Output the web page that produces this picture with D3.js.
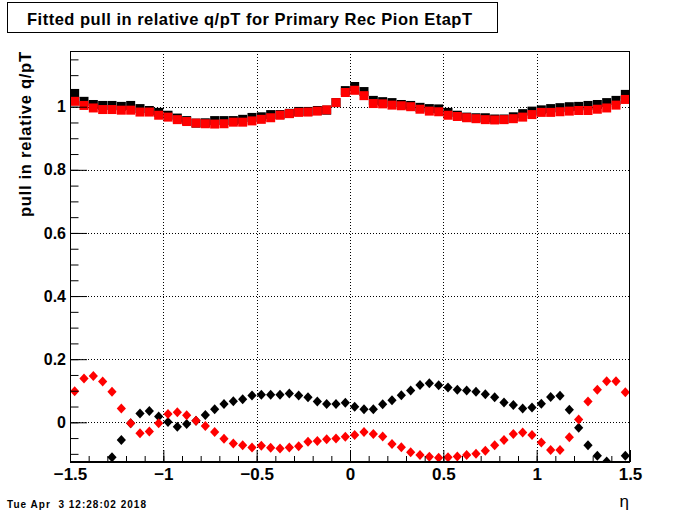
<!DOCTYPE html>
<html>
<head>
<meta charset="utf-8">
<script src="https://cdn.jsdelivr.net/npm/d3@7"></script>
<style>
  html, body { margin: 0; padding: 0; background: #fff; }
  svg { display: block; }
  text { font-family: "Liberation Sans", Arial, sans-serif; }
</style>
</head>
<body>
<div id="chart"></div>
<script>
// eta bin centres (60 bins of width 0.05 from -1.5 to 1.5)
const etaBins = [
  -1.475, -1.425, -1.375, -1.325, -1.275, -1.225, -1.175, -1.125, -1.075, -1.025,
  -0.975, -0.925, -0.875, -0.825, -0.775, -0.725, -0.675, -0.625, -0.575, -0.525,
  -0.475, -0.425, -0.375, -0.325, -0.275, -0.225, -0.175, -0.125, -0.075, -0.025,
   0.025,  0.075,  0.125,  0.175,  0.225,  0.275,  0.325,  0.375,  0.425,  0.475,
   0.525,  0.575,  0.625,  0.675,  0.725,  0.775,  0.825,  0.875,  0.925,  0.975,
   1.025,  1.075,  1.125,  1.175,  1.225,  1.275,  1.325,  1.375,  1.425,  1.475
];

// fitted sigma (squares)
const sigmaBlack = [
  1.042, 1.017, 1.007, 1.004, 1.004, 1.001, 1.004, 0.994, 0.988, 0.982,
  0.973, 0.964, 0.956, 0.948, 0.949, 0.956, 0.956, 0.956, 0.960, 0.966,
  0.968, 0.975, 0.975, 0.979, 0.985, 0.985, 0.988, 0.989, 1.013, 1.051,
  1.064, 1.048, 1.020, 1.016, 1.013, 1.007, 1.004, 0.998, 0.994, 0.993,
  0.982, 0.973, 0.967, 0.965, 0.965, 0.961, 0.961, 0.968, 0.978, 0.986,
  0.990, 0.994, 0.997, 1.000, 1.001, 1.004, 1.007, 1.013, 1.020, 1.039
];
const sigmaRed = [
  1.017, 1.004, 0.996, 0.991, 0.991, 0.989, 0.989, 0.983, 0.983, 0.973,
  0.967, 0.959, 0.953, 0.948, 0.946, 0.945, 0.946, 0.951, 0.951, 0.955,
  0.960, 0.965, 0.973, 0.978, 0.982, 0.983, 0.986, 0.990, 1.013, 1.045,
  1.052, 1.035, 1.010, 1.009, 1.005, 1.003, 1.000, 0.992, 0.986, 0.984,
  0.973, 0.969, 0.965, 0.962, 0.959, 0.958, 0.959, 0.962, 0.967, 0.975,
  0.982, 0.982, 0.984, 0.986, 0.988, 0.988, 0.992, 0.996, 1.005, 1.023
];

// fitted mean (diamonds); values below the axis range are not drawn
const meanBlack = [
  -0.240, -0.200, -0.170, -0.140, -0.111, -0.056, -0.003, 0.028, 0.036, 0.018,
   0.001, -0.014, -0.005, 0.005, 0.023, 0.041, 0.058, 0.067, 0.073, 0.085,
   0.087, 0.087, 0.087, 0.091, 0.085, 0.079, 0.066, 0.058, 0.058, 0.062,
   0.049, 0.041, 0.041, 0.057, 0.070, 0.086, 0.101, 0.118, 0.124, 0.117,
   0.110, 0.103, 0.101, 0.097, 0.089, 0.079, 0.063, 0.055, 0.044, 0.047,
   0.059, 0.080, 0.084, 0.040, -0.017, -0.073, -0.106, -0.124, -0.150, -0.106
];
const meanRed = [
   0.098, 0.139, 0.147, 0.129, 0.097, 0.044, -0.003, -0.035, -0.029, -0.003,
   0.026, 0.032, 0.022, 0.005, -0.012, -0.031, -0.052, -0.067, -0.073, -0.080,
  -0.074, -0.081, -0.083, -0.080, -0.076, -0.062, -0.059, -0.054, -0.051, -0.046,
  -0.040, -0.031, -0.037, -0.045, -0.069, -0.079, -0.095, -0.104, -0.109, -0.112,
  -0.111, -0.108, -0.104, -0.100, -0.090, -0.073, -0.056, -0.037, -0.032, -0.040,
  -0.064, -0.088, -0.088, -0.047, 0.009, 0.066, 0.103, 0.130, 0.130, 0.095
];

const xMajor = [-1.5, -1, -0.5, 0, 0.5, 1, 1.5];
const yMajor = [0, 0.2, 0.4, 0.6, 0.8, 1];
const xMinor = d3.range(-15, 16).map(d => d / 10);
const yMinor = d3.range(-2, 24).map(d => d / 20);

const titleText = 'Fitted pull in relative q/pT for Primary Rec Pion EtapT';
const yTitle = 'pull in relative q/pT';
const xTitle = '\u03b7';
const dateText = 'Tue Apr  3 12:28:02 2018';

const W = 700, H = 514;
const frame = { left: 70, right: 630, top: 51, bottom: 462 };

const svg = d3.select('#chart').append('svg')
  .attr('width', W)
  .attr('height', H)
  .style('background', '#fff');

const x = d3.scaleLinear().domain([-1.5, 1.5]).range([frame.left, frame.right]);
const y = d3.scaleLinear().domain([-0.1258, 1.1765]).range([frame.bottom, frame.top]);

// grid
const grid = svg.append('g')
  .attr('stroke', '#000')
  .attr('stroke-width', 1)
  .attr('stroke-dasharray', '1,2');
grid.selectAll('line.gx')
  .data(xMajor.filter(d => d > -1.5 && d < 1.5))
  .enter().append('line')
  .attr('x1', d => Math.round(x(d)) + 0.5).attr('x2', d => Math.round(x(d)) + 0.5)
  .attr('y1', frame.top).attr('y2', frame.bottom);
grid.selectAll('line.gy')
  .data(yMajor)
  .enter().append('line')
  .attr('y1', d => Math.round(y(d)) + 0.5).attr('y2', d => Math.round(y(d)) + 0.5)
  .attr('x1', frame.left).attr('x2', frame.right);

// markers, clipped to the frame
svg.append('defs').append('clipPath').attr('id', 'frame-clip')
  .append('rect')
  .attr('x', frame.left).attr('y', frame.top)
  .attr('width', frame.right - frame.left).attr('height', frame.bottom - frame.top);

const marks = svg.append('g').attr('clip-path', 'url(#frame-clip)');
const inRange = v => v >= y.domain()[0] - 0.003 && v <= y.domain()[1];
const sq = 9;

function drawSquares(values, color) {
  marks.append('g').selectAll('rect')
    .data(etaBins.map((e, i) => [e, values[i]]).filter(d => inRange(d[1])))
    .enter().append('rect')
    .attr('x', d => x(d[0]) - sq / 2)
    .attr('y', d => y(d[1]) - sq / 2)
    .attr('width', sq).attr('height', sq)
    .attr('fill', color);
}

function drawDiamonds(values, color) {
  marks.append('g').selectAll('path')
    .data(etaBins.map((e, i) => [e, values[i]]).filter(d => inRange(d[1])))
    .enter().append('path')
    .attr('transform', d => 'translate(' + x(d[0]) + ',' + y(d[1]) + ')')
    .attr('d', 'M0,-5L4.6,0L0,5L-4.6,0Z')
    .attr('fill', color);
}

drawSquares(sigmaBlack, '#000');
drawSquares(sigmaRed, '#ff0000');
drawDiamonds(meanBlack, '#000');
drawDiamonds(meanRed, '#ff0000');

// axes
const fmt = d3.format('~g');
const xAxis = svg.append('g')
  .attr('transform', 'translate(0,' + frame.bottom + ')')
  .call(d3.axisBottom(x).tickValues(xMajor).tickSize(-12).tickPadding(6).tickFormat(fmt));
svg.append('g')
  .attr('transform', 'translate(0,' + frame.bottom + ')')
  .call(d3.axisBottom(x).tickValues(xMinor).tickSize(-6).tickFormat(''));
const yAxis = svg.append('g')
  .attr('transform', 'translate(' + frame.left + ',0)')
  .call(d3.axisLeft(y).tickValues(yMajor).tickSize(-17).tickPadding(4).tickFormat(fmt));
svg.append('g')
  .attr('transform', 'translate(' + frame.left + ',0)')
  .call(d3.axisLeft(y).tickValues(yMinor).tickSize(-8.5).tickFormat(''));

svg.selectAll('.domain').remove();
svg.selectAll('.tick line').attr('stroke', '#000');
xAxis.selectAll('text')
  .attr('font-size', 17).attr('font-weight', 'bold').attr('fill', '#000');
yAxis.selectAll('text')
  .attr('font-size', 16).attr('font-weight', 'bold').attr('fill', '#000');

// frame
svg.append('rect')
  .attr('x', frame.left + 0.5).attr('y', frame.top + 0.5)
  .attr('width', frame.right - frame.left - 1)
  .attr('height', frame.bottom - frame.top - 1)
  .attr('fill', 'none').attr('stroke', '#000').attr('stroke-width', 1);
svg.append('line')
  .attr('x1', frame.left).attr('x2', frame.right)
  .attr('y1', frame.bottom).attr('y2', frame.bottom)
  .attr('stroke', '#000').attr('stroke-width', 2);

// title box
svg.append('rect')
  .attr('x', 7.5).attr('y', 2.5).attr('width', 490).attr('height', 30)
  .attr('fill', '#fff').attr('stroke', '#000').attr('stroke-width', 1);
svg.append('text')
  .attr('x', 27).attr('y', 24.5)
  .attr('font-size', 16.5).attr('font-weight', 'bold')
  .attr('textLength', 445).attr('lengthAdjust', 'spacing')
  .text(titleText);

// axis titles
svg.append('text')
  .attr('transform', 'translate(31,217) rotate(-90)')
  .attr('font-size', 16.5).attr('font-weight', 'bold')
  .attr('textLength', 165).attr('lengthAdjust', 'spacing')
  .text(yTitle);
svg.append('text')
  .attr('x', 629).attr('y', 507)
  .attr('text-anchor', 'end')
  .attr('font-size', 17)
  .text(xTitle);

// date stamp
svg.append('text')
  .attr('x', 7).attr('y', 507.5)
  .attr('font-size', 10).attr('font-weight', 'bold')
  .attr('textLength', 139).attr('lengthAdjust', 'spacing')
  .style('white-space', 'pre')
  .text(dateText);
</script>
</body>
</html>
